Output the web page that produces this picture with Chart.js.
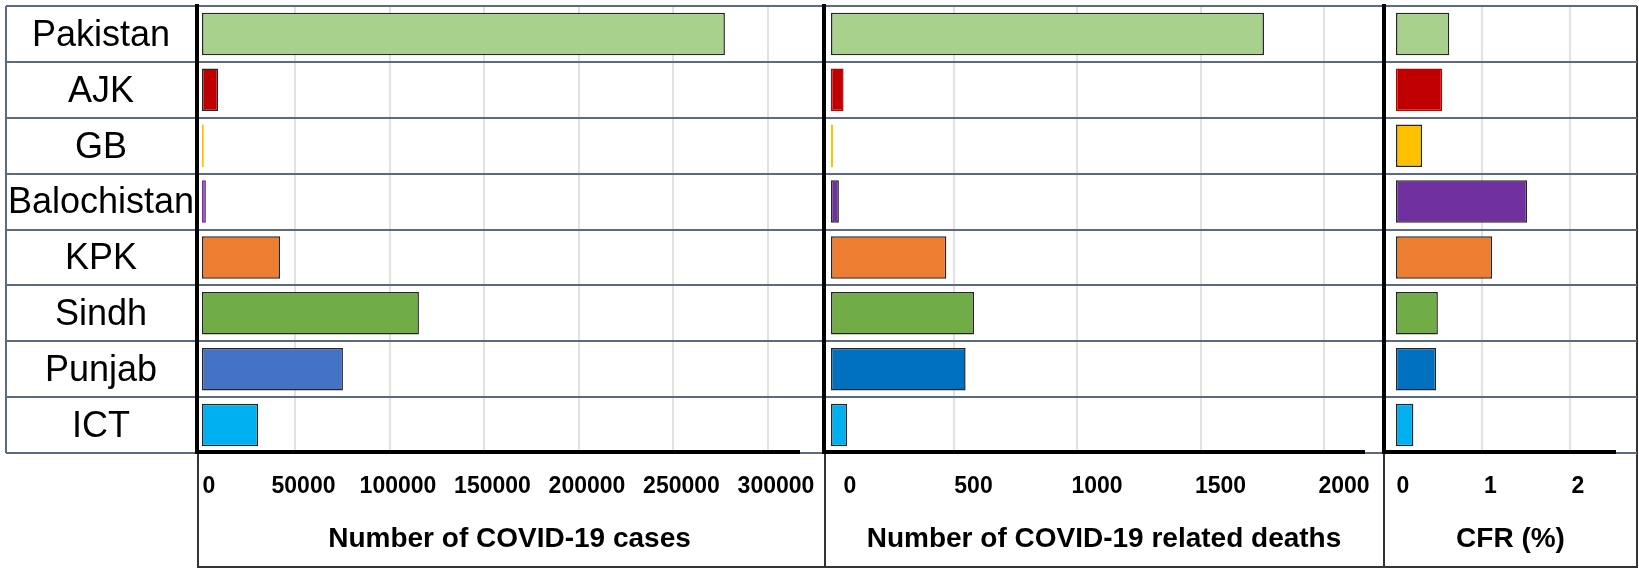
<!DOCTYPE html>
<html>
<head>
<meta charset="utf-8">
<script src="https://cdn.jsdelivr.net/npm/chart.js@4/dist/chart.umd.min.js"></script>
<style>
  html, body { margin: 0; padding: 0; background: #fff; }
  #wrap { position: relative; width: 1639px; height: 571px; overflow: hidden; font-family: "Liberation Sans", Arial, sans-serif; }
  #wrap canvas { position: absolute; top: 0; }
  .ln { position: absolute; }
</style>
</head>
<body>
<div id="wrap">
  <!-- marco de la tabla (bordes y pie) -->
  <div class="ln" style="left:5px;top:6px;width:2px;height:447px;background:#5d6b82"></div>
  <div class="ln" style="left:1636px;top:6px;width:2px;height:562px;background:#333"></div>
  <div class="ln" style="left:197px;top:453px;width:2px;height:115px;background:#333"></div>
  <div class="ln" style="left:824px;top:453px;width:2px;height:115px;background:#333"></div>
  <div class="ln" style="left:1383px;top:453px;width:2px;height:115px;background:#333"></div>
  <div class="ln" style="left:197px;top:566px;width:1441px;height:2px;background:#333"></div>

  <canvas id="cCasos" width="822" height="571" style="left:0px"></canvas>
  <canvas id="cMuertes" width="564" height="571" style="left:820px"></canvas>
  <canvas id="cCfr" width="259" height="571" style="left:1380px"></canvas>
</div>
<script>
/* ---------- Datos ---------- */
const REGIONES = ['Pakistan', 'AJK', 'GB', 'Balochistan', 'KPK', 'Sindh', 'Punjab', 'ICT'];
const CASOS    = [277200, 9100, 1500, 2600, 41800, 115300, 75100, 30200];
const MUERTES  = [1757, 55, 12, 36, 471, 583, 549, 69];
const CFR      = [0.62, 0.54, 0.31, 1.51, 1.11, 0.49, 0.47, 0.21];

// marcas de los ejes
const TICKS_CASOS   = [0, 50000, 100000, 150000, 200000, 250000, 300000];
const TICKS_MUERTES = [0, 500, 1000, 1500, 2000];
const TICKS_CFR     = [0, 1, 2];

/* ---------- Colores ---------- */
const OSCURO = '#262626';
const FILA = '#5d6b82';
const COLOR_CASOS   = ['#A9D18E', '#C00000', '#FFC000', '#7030A0', '#ED7D31', '#70AD47', '#4472C4', '#00B0F0'];
const COLOR_MUERTES = ['#A9D18E', '#C00000', '#FFC000', '#7030A0', '#ED7D31', '#70AD47', '#0070C0', '#00B0F0'];
const COLOR_CFR     = COLOR_MUERTES;
// borde oscuro o del mismo color que la barra (barras finas sin contorno)
const BORDE_CASOS   = [OSCURO, OSCURO, '#FFC000', '#7030A0', OSCURO, OSCURO, OSCURO, OSCURO];
const BORDE_MUERTES = [OSCURO, '#C00000', '#FFC000', OSCURO, OSCURO, OSCURO, OSCURO, OSCURO];
const BORDE_CFR     = [OSCURO, '#C00000', OSCURO, OSCURO, OSCURO, OSCURO, OSCURO, OSCURO];

const FUENTE = '"Liberation Sans", Arial, sans-serif';

// linea gruesa inferior que no llega al borde del panel
const ejeCorto = {
  id: 'ejeCorto',
  afterDatasetsDraw(chart, args, opts) {
    const { ctx, chartArea, scales: { x } } = chart;
    const fin = x.getPixelForValue(opts.fin);
    ctx.save();
    ctx.strokeStyle = '#000';
    ctx.lineWidth = 4;
    ctx.beginPath();
    ctx.moveTo(chartArea.left - 2, chartArea.bottom - 1);
    ctx.lineTo(fin, chartArea.bottom - 1);
    ctx.stroke();
    ctx.restore();
  }
};

/* cfg = { valores, relleno, borde, marcas, min, max, fin, titulo, desplaz, etiquetas, izq, der } */
function crearPanel(id, cfg) {
  const ejeY = {
    type: 'category',
    offset: true,
    grid: { offset: true, color: FILA, lineWidth: 2, drawTicks: false },
    border: { display: true, color: '#000', width: 4 },
    ticks: { display: false },
    afterFit: s => { s.width = 0; s.paddingTop = 0; s.paddingBottom = 0; },
  };
  if (cfg.etiquetas) {
    ejeY.grid = { offset: true, color: FILA, lineWidth: 2, drawTicks: true, tickLength: 191, tickColor: FILA, tickWidth: 2 };
    ejeY.ticks = { display: true, color: '#000', font: { family: FUENTE, size: 36 }, crossAlign: 'center', padding: -188, labelOffset: 2 };
    ejeY.afterFit = s => { s.width = 197; s.paddingTop = 0; s.paddingBottom = 0; };
  }

  return new Chart(document.getElementById(id), {
    type: 'bar',
    data: {
      labels: REGIONES,
      datasets: [{
        data: cfg.valores,
        backgroundColor: cfg.relleno,
        borderColor: cfg.borde,
        borderWidth: 1.5,
        borderSkipped: false,
        barPercentage: 0.76,
        categoryPercentage: 1.0,
      }],
    },
    plugins: [ejeCorto],
    options: {
      indexAxis: 'y',
      responsive: false,
      animation: false,
      devicePixelRatio: 1,
      layout: { padding: { top: 6, left: cfg.izq, right: cfg.der, bottom: 0 } },
      plugins: {
        legend: { display: false },
        tooltip: { enabled: false },
        ejeCorto: { fin: cfg.fin },
      },
      scales: {
        x: {
          type: 'linear',
          min: cfg.min,
          max: cfg.max,
          afterBuildTicks: s => { s.ticks = cfg.marcas.map(v => ({ value: v })); },
          grid: {
            color: c => (c.tick && c.tick.value === 0) ? 'rgba(0,0,0,0)' : '#e2e2e2',
            lineWidth: 2,
            drawTicks: false,
          },
          border: { display: false },
          ticks: {
            autoSkip: false,
            maxRotation: 0,
            color: '#000',
            font: { family: FUENTE, size: 23, weight: 'bold' },
            padding: 20,
            labelOffset: cfg.desplaz,
            callback: v => String(v),
          },
          title: {
            display: true,
            text: cfg.titulo,
            color: '#000',
            font: { family: FUENTE, size: 28, weight: 'bold' },
            padding: { top: 0, bottom: 15 },
          },
          afterFit: s => { s.height = 118; s.paddingLeft = 0; s.paddingRight = 0; },
        },
        y: ejeY,
      },
    },
  });
}

crearPanel('cCasos', {
  valores: CASOS, relleno: COLOR_CASOS, borde: BORDE_CASOS, marcas: TICKS_CASOS,
  min: -2116, max: 328572, fin: 316931,
  titulo: 'Number of COVID-19 cases', desplaz: 8, etiquetas: true, izq: 0, der: 0,
});
crearPanel('cMuertes', {
  valores: MUERTES, relleno: COLOR_MUERTES, borde: BORDE_MUERTES, marcas: TICKS_MUERTES,
  min: -24.3, max: 2242.9, fin: 2166,
  titulo: 'Number of COVID-19 related deaths', desplaz: 20, etiquetas: false, izq: 4, der: 0,
});
crearPanel('cCfr', {
  valores: CFR, relleno: COLOR_CFR, borde: BORDE_CFR, marcas: TICKS_CFR,
  min: -0.1257, max: 2.766, fin: 2.526,
  titulo: 'CFR (%)', desplaz: 8, etiquetas: false, izq: 4, der: 2,
});
</script>
</body>
</html>
